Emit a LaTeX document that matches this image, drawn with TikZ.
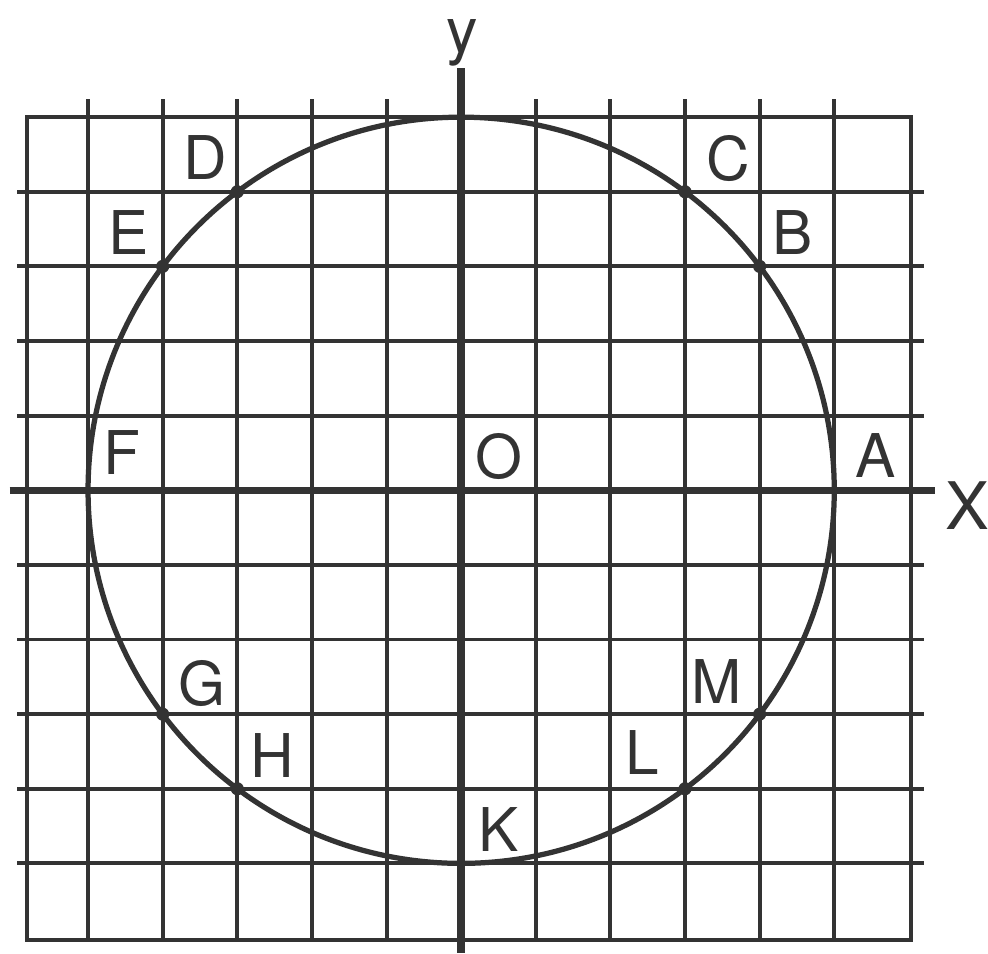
\documentclass[tikz,border=0pt]{standalone}
\usepackage{fontspec}
\setmainfont{TeX Gyre Heros}
\tikzset{
  gridline/.style={draw=black!80, line width=1.5pt},
  axisline/.style={draw=black!80, line width=2.8pt},
  curve/.style={draw=black!80, line width=2pt},
  lbl/.style={text=black!80, font=\fontsize{23}{23}\selectfont, inner sep=0pt},
  pt/.style={fill=black!80, circle, inner sep=0pt, minimum size=5pt}
}
\begin{document}
\begin{tikzpicture}
\useasboundingbox (-6.18,-6.21) rectangle (7.06,6.57);
% border
\draw[gridline] (-5.82,-6.03) rectangle (6.03,5.0);
% vertical grid lines
\foreach \x in {-5,-4,-3,-2,-1,1,2,3,4,5}
  \draw[gridline] (\x,-6.03) -- (\x,5.25);
% horizontal grid lines
\foreach \y in {-5,-4,-3,-2,-1,1,2,3,4}
  \draw[gridline] (-5.95,\y) -- (6.2,\y);
% axes
\draw[axisline] (-6.05,0) -- (6.35,0);
\draw[axisline] (0,-6.2) -- (0,5.66);
% circle
\draw[curve] (0,0) circle (5);
% points
\foreach \n/\px/\py in {pB/4/3,pC/3/4,pD/-3/4,pE/-4/3,pG/-4/-3,pH/-3/-4,pL/3/-4,pM/4/-3}
  \node[pt] (\n) at (\px,\py) {};
% labels
\node[lbl] (lD) at (-3.43,4.46) {D};
\node[lbl] (lE) at (-4.45,3.46) {E};
\node[lbl] (lC) at (3.58,4.45) {C};
\node[lbl] (lB) at (4.44,3.46) {B};
\node[lbl] (lF) at (-4.54,0.51) {F};
\node[lbl] (lO) at (0.51,0.45) {O};
\node[lbl] (lA) at (5.56,0.46) {A};
\node[lbl, font=\fontsize{25}{25}\selectfont] (lX) at (6.78,-0.21) {X};
\node[lbl, font=\fontsize{24}{24}\selectfont, anchor=base] (ly) at (0.01,5.86) {y};
\node[lbl] (lG) at (-3.47,-2.59) {G};
\node[lbl] (lH) at (-2.53,-3.55) {H};
\node[lbl] (lK) at (0.5,-4.54) {K};
\node[lbl] (lL) at (2.43,-3.51) {L};
\node[lbl] (lM) at (3.43,-2.56) {M};
\end{tikzpicture}
\end{document}
